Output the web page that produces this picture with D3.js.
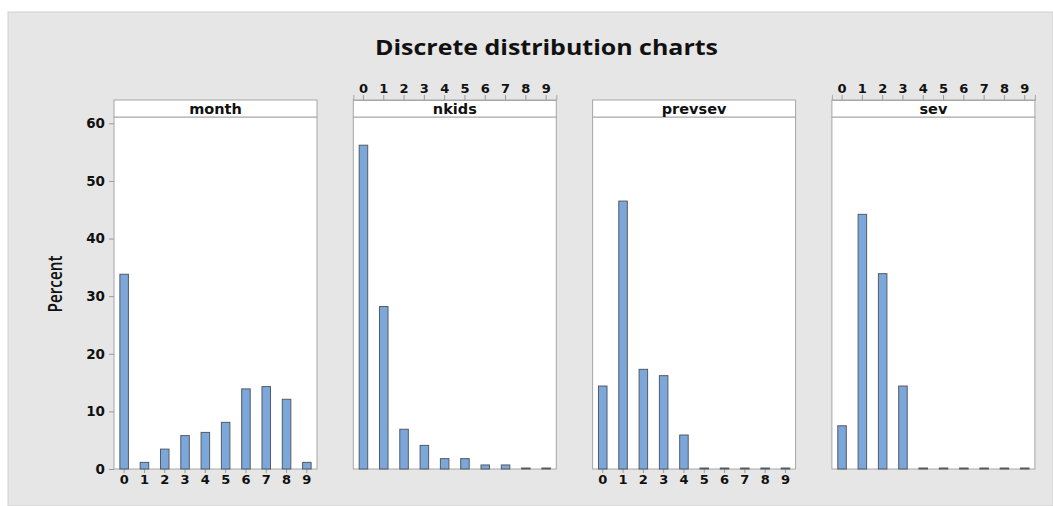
<!DOCTYPE html>
<html>
<head>
<meta charset="utf-8">
<script src="https://cdn.jsdelivr.net/npm/d3@7"></script>
<style>
  body { margin: 0; background: #fff; }
  svg { display: block; }
</style>
</head>
<body>
<svg id="chart"></svg>
<script>
// values (percent)
const categories = ['0', '1', '2', '3', '4', '5', '6', '7', '8', '9'];
const panelNames = ['month', 'nkids', 'prevsev', 'sev'];
const monthValues = [33.8, 1.15, 3.45, 5.8, 6.35, 8.1, 13.9, 14.3, 12.1, 1.15];
const nkidsValues = [56.2, 28.2, 6.9, 4.1, 1.8, 1.8, 0.7, 0.7, 0, 0];
const prevsevValues = [14.4, 46.5, 17.3, 16.2, 5.9, 0, 0, 0, 0, 0];
const sevValues = [7.5, 44.2, 33.9, 14.4, 0, 0, 0, 0, 0, 0];
const yTicks = [0, 10, 20, 30, 40, 50, 60];

const allValues = [monthValues, nkidsValues, prevsevValues, sevValues];

const W = 1053, H = 506;
const panelW = 203, panelGap = 36.3;
const panelLeft = 114;
const stripTop = 100, stripH = 17;
const plotBottom = 469;

const svg = d3.select('#chart').attr('width', W).attr('height', H);

svg.append('rect')
  .attr('x', 8).attr('y', 12)
  .attr('width', W - 8).attr('height', H - 12)
  .attr('fill', '#e6e6e6')
  .attr('stroke', '#cfcfcf');

svg.append('text')
  .attr('x', 375).attr('y', 55)
  .attr('textLength', 343)
  .attr('lengthAdjust', 'spacingAndGlyphs')
  .style('font-family', '"Open Sans", sans-serif')
  .style('font-weight', 700)
  .style('font-size', '22px')
  .attr('fill', '#111')
  .text('Discrete distribution charts');

const y = d3.scaleLinear().domain([0, 60]).range([plotBottom, 123.3]);

const tickFont = (g, size) => g.selectAll('text')
  .style('font-family', '"DejaVu Sans", sans-serif')
  .style('font-weight', 'bold')
  .style('font-size', size + 'px')
  .attr('fill', '#111');

panelNames.forEach((name, i) => {
  const x0 = panelLeft + i * (panelW + panelGap);
  const g = svg.append('g').attr('transform', `translate(${x0},0)`);

  const x = d3.scaleBand().domain(categories).range([0, panelW]).paddingInner(0.58).paddingOuter(0.29);

  // plot area with frame
  g.append('rect')
    .attr('x', 0).attr('y', stripTop + stripH)
    .attr('width', panelW).attr('height', plotBottom - stripTop - stripH)
    .attr('fill', '#fff')
    .attr('stroke', '#a6a6a6');

  // strip
  g.append('rect')
    .attr('x', 0).attr('y', stripTop)
    .attr('width', panelW).attr('height', stripH)
    .attr('fill', '#fff')
    .attr('stroke', '#a6a6a6');
  g.append('text')
    .attr('x', panelW / 2).attr('y', stripTop + 13.5)
    .attr('text-anchor', 'middle')
    .style('font-family', '"DejaVu Sans", sans-serif')
    .style('font-weight', 'bold')
    .style('font-size', '14.5px')
    .attr('fill', '#111')
    .text(name);

  // x axis, alternating bottom / top
  if (i % 2 === 0) {
    const ax = g.append('g')
      .attr('transform', `translate(0,${plotBottom})`)
      .call(d3.axisBottom(x).tickSize(4).tickPadding(2));
    ax.select('.domain').remove();
    ax.selectAll('line').attr('stroke', '#999');
    tickFont(ax, 13);
  } else {
    const ax = g.append('g')
      .attr('transform', `translate(0,${stripTop})`)
      .call(d3.axisTop(x).tickSize(5).tickPadding(2));
    ax.select('.domain').attr('stroke', '#a6a6a6');
    ax.selectAll('line').attr('stroke', '#999');
    tickFont(ax, 13);
  }

  if (i === 0) {
    const ay = g.append('g')
      .call(d3.axisLeft(y).tickValues(yTicks).tickSize(5).tickPadding(4));
    ay.select('.domain').remove();
    ay.selectAll('line').attr('stroke', '#999');
    tickFont(ay, 13.5);
  }

  // bars (drawn last so zero bars show as a dark line on the baseline)
  g.selectAll('.bar')
    .data(allValues[i])
    .enter()
    .append('rect')
    .attr('class', 'bar')
    .attr('x', (d, j) => x(categories[j]))
    .attr('y', d => y(d) - (d === 0 ? 1 : 0))
    .attr('width', x.bandwidth())
    .attr('height', d => plotBottom - y(d) + (d === 0 ? 1 : 0))
    .attr('fill', '#7ba7da')
    .attr('stroke', '#555a61')
    .attr('stroke-width', 1);
});

svg.append('text')
  .attr('transform', 'translate(62,284) rotate(-90)')
  .attr('text-anchor', 'middle')
  .attr('textLength', 57)
  .attr('lengthAdjust', 'spacingAndGlyphs')
  .style('font-family', '"Open Sans", sans-serif')
  .style('font-weight', 600)
  .style('font-size', '19px')
  .attr('fill', '#111')
  .text('Percent');
</script>
</body>
</html>
